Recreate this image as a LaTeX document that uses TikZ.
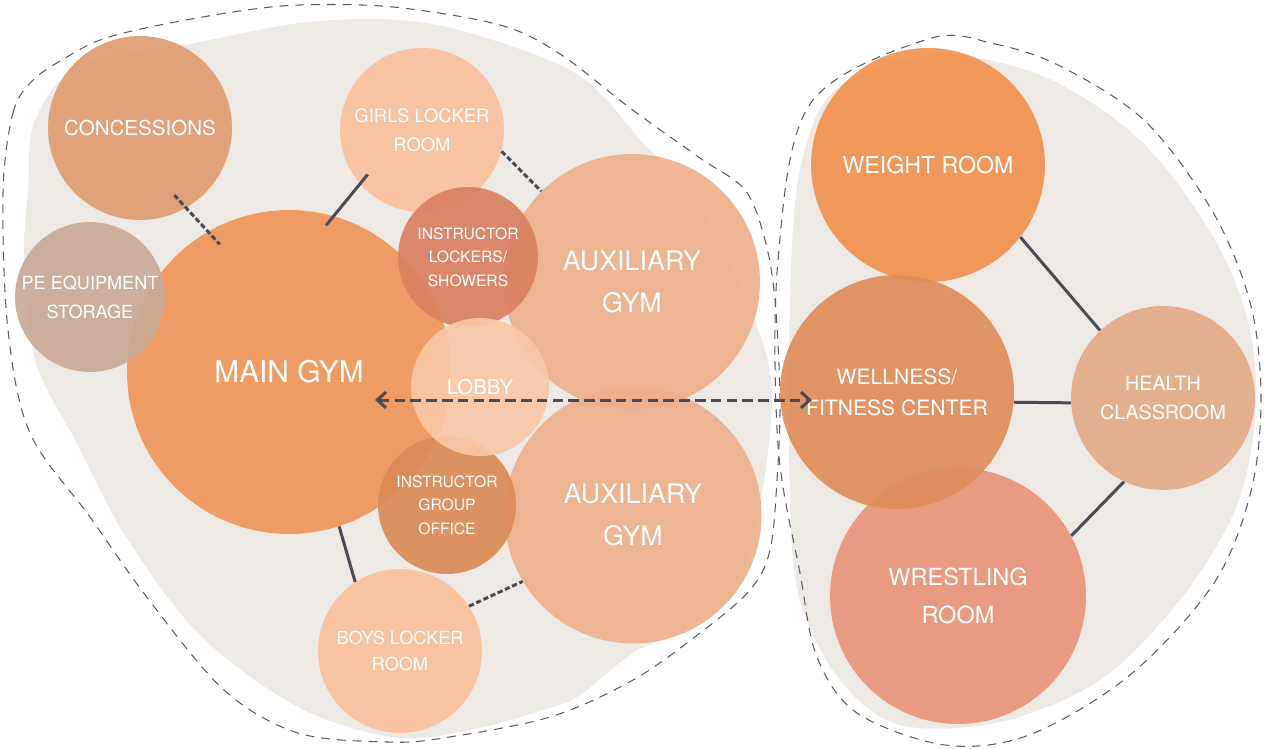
\documentclass[tikz,border=0pt]{standalone}
\usepackage{fontspec}
\setmainfont{TeX Gyre Heros}
\usetikzlibrary{arrows.meta}

\definecolor{zonegray}{HTML}{EDEAE6}
\definecolor{rimgray}{HTML}{5C5C60}
\definecolor{linkgray}{HTML}{4A4A56}
\definecolor{maingym}{HTML}{F0965A}
\definecolor{concess}{HTML}{DE9C70}
\definecolor{storage}{HTML}{C9AA96}
\definecolor{locker}{HTML}{F8C09C}
\definecolor{instlock}{HTML}{DA8060}
\definecolor{auxgym}{HTML}{EEB08A}
\definecolor{lobby}{HTML}{F9C7A5}
\definecolor{instoff}{HTML}{DB8A55}
\definecolor{weight}{HTML}{F0924F}
\definecolor{wellness}{HTML}{E08D58}
\definecolor{wrestle}{HTML}{E9957A}
\definecolor{health}{HTML}{E4AB86}

\begin{document}
\begin{tikzpicture}[x=0.02cm,y=-0.02cm,
  room/.style={circle,inner sep=0pt,minimum size=#1,align=center,text=white,fill opacity=0.92,text opacity=1},
  zone/.style={fill=zonegray},
  rim/.style={draw=rimgray,line width=0.6pt,dash pattern=on 5pt off 4pt},
  link/.style={draw=linkgray,line width=1.7pt},
  dlink/.style={link,dash pattern=on 3pt off 1.5pt},
  flow/.style={draw=linkgray,line width=1.7pt,dash pattern=on 6pt off 3pt,{Straight Barb[length=5pt,width=9pt]}-{Straight Barb[length=5pt,width=9pt]}}]

  \useasboundingbox (0,0) rectangle (1264,748);

  % zones
  \fill[zone] plot[smooth cycle,tension=0.55] coordinates {(35,120) (80,65) (180,46) (300,23) (400,20) (480,36) (580,76) (645,145) (690,190) (740,285) (772,400) (735,590) (633,653) (577,697) (533,713) (483,727) (400,738) (300,708) (200,635) (125,535) (75,440) (35,360) (24,260) (28,190)};
  \draw[rim] plot[smooth cycle,tension=0.55] coordinates {(3,193) (13,113) (33,80) (67,57) (100,40) (150,27) (233,12) (300,5) (393,7) (500,25) (560,54) (630,108) (700,158) (745,190) (765,240) (775,300) (780,400) (777,480) (770,550) (750,590) (700,633) (633,680) (550,717) (443,738) (388,742) (298,733) (224,690) (149,600) (90,517) (30,433) (8,330)};
  \fill[zone] plot[smooth cycle,tension=0.55] coordinates {(835,90) (930,55) (1040,75) (1140,140) (1215,240) (1250,330) (1255,420) (1235,510) (1180,600) (1100,680) (1000,722) (900,725) (840,680) (800,600) (790,500) (790,300) (800,170)};
  \draw[rim] plot[smooth cycle,tension=0.55] coordinates {(928,39) (995,44) (1062,67) (1146,122) (1214,214) (1251,306) (1261,399) (1251,491) (1214,583) (1130,675) (1029,735) (945,745) (857,713) (817,657) (800,573) (778,445) (778,260) (810,104)};

  % main block
  \node[room=6.48cm,fill=maingym,font=\fontsize{17}{21}\selectfont] (main) at (289,372) {MAIN GYM};
  \node[room=3.68cm,fill=concess,font=\fontsize{11.7}{16}\selectfont] (conc) at (140,128) {CONCESSIONS};
  \node[room=3.0cm,fill=storage,font=\fontsize{10.3}{16.5}\selectfont] (store) at (90,297) {PE EQUIPMENT\\STORAGE};
  \node[room=3.28cm,fill=locker,font=\fontsize{10.5}{16.5}\selectfont] (girls) at (422,130) {GIRLS LOCKER\\ROOM};
  \node[room=5.12cm,fill=auxgym,font=\fontsize{15.3}{24}\selectfont] (aux1) at (632,282) {AUXILIARY\\GYM};
  \node[room=5.14cm,fill=auxgym,font=\fontsize{15.3}{24}\selectfont] (aux2) at (633,515) {AUXILIARY\\GYM};
  \node[room=2.8cm,fill=instlock,font=\fontsize{8.9}{13.4}\selectfont] (lockers) at (468,257) {INSTRUCTOR\\LOCKERS/\\SHOWERS};
  \node[room=2.76cm,fill=instoff,font=\fontsize{8.9}{13.4}\selectfont] (office) at (447,505) {INSTRUCTOR\\GROUP\\OFFICE};
  \node[room=2.76cm,fill=lobby,font=\fontsize{11.6}{16}\selectfont] (lobby) at (480,387) {LOBBY};
  \node[room=3.28cm,fill=locker,font=\fontsize{10.3}{14.8}\selectfont] (boys) at (400,651) {BOYS LOCKER\\ROOM};

  % fitness block
  \node[room=4.68cm,fill=weight,font=\fontsize{13.2}{18}\selectfont] (weight) at (928,165) {WEIGHT ROOM};
  \node[room=5.12cm,fill=wrestle,font=\fontsize{13.4}{21.6}\selectfont] (wrest) at (958,596) {WRESTLING\\ROOM};
  \node[room=4.68cm,fill=wellness,font=\fontsize{12}{17.6}\selectfont] (well) at (897,392) {WELLNESS/\\FITNESS CENTER};
  \node[room=3.68cm,fill=health,font=\fontsize{11.2}{16}\selectfont] (health) at (1163,398) {HEALTH\\CLASSROOM};

  % connectors
  \draw[dlink,shorten <=-10pt,shorten >=-10pt] (conc.-60) -- (main.120);
  \draw[link,shorten <=-7pt,shorten >=-7pt] (girls.-139) -- (main.74);
  \draw[dlink] (girls.-15) -- (aux1.135);
  \draw[link] (main.-72) -- (boys.123);
  \draw[dlink] (boys.33) -- (aux2.-149);
  \draw[flow] ([shift={(86,28)}]main.center) -- ([shift={(-85,8)}]well.center);
  \draw[link] (weight.-38) -- (health.133);
  \draw[link] (well.-5) -- (health.-177);
  \draw[link] (wrest.28) -- (health.-115);
\end{tikzpicture}
\end{document}
